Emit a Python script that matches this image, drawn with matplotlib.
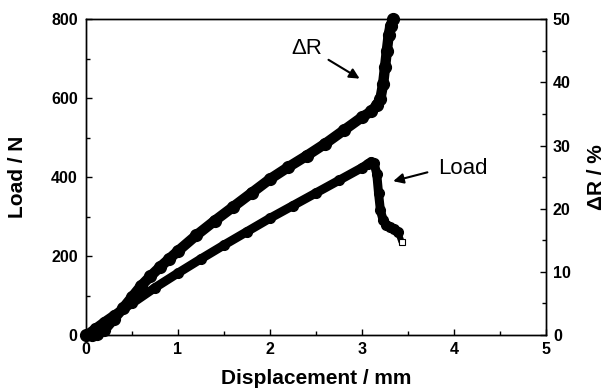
import matplotlib
matplotlib.use("Agg")
import matplotlib.pyplot as plt
from matplotlib.ticker import MultipleLocator

plt.rcParams['font.family'] = ['Liberation Sans', 'DejaVu Sans']

# Data
dr_disp = [0.0, 0.06, 0.12, 0.2, 0.3, 0.4, 0.5, 0.6, 0.7, 0.8, 0.9, 1.0, 1.2, 1.4, 1.6,
           1.8, 2.0, 2.2, 2.4, 2.6, 2.8, 3.0, 3.1, 3.16, 3.2, 3.23, 3.25, 3.27, 3.29,
           3.31, 3.34]
dr_pct = [0.0, 0.0, 0.1, 0.8, 2.5, 4.2, 6.0, 7.8, 9.3, 10.7, 12.0, 13.3, 15.8, 18.1, 20.3,
          22.5, 24.7, 26.6, 28.4, 30.3, 32.4, 34.5, 35.4, 36.4, 37.4, 39.8, 42.4, 45.0, 47.5,
          49.0, 50.0]

load_disp = [0.0, 0.1, 0.2, 0.3, 0.5, 0.75, 1.0, 1.25, 1.5, 1.75, 2.0, 2.25, 2.5, 2.75,
             3.0, 3.06, 3.1, 3.13, 3.16, 3.18, 3.2, 3.23, 3.26, 3.3, 3.35, 3.39, 3.43]
load_n = [0.0, 17, 34, 50, 80, 120, 157, 193, 228, 262, 296, 328, 360, 392,
          424, 433, 439, 436, 409, 359, 316, 291, 280, 274, 268, 262, 236]

x_ticks = [0, 1, 2, 3, 4, 5]
load_ticks = [0, 200, 400, 600, 800]
dr_ticks = [0, 10, 20, 30, 40, 50]

fig = plt.figure(figsize=(6.12, 3.90), dpi=100)
ax = fig.add_axes([86/612, 1-335/390, 460/612, (335-19.3)/390])
ax2 = ax.twinx()

# Load curve (left axis)
ax.plot(load_disp[:-1], load_n[:-1], color='black', lw=6.5, solid_capstyle='round',
        solid_joinstyle='round', marker='o', ms=7.0, mfc='black', mec='black', zorder=3)
ax.plot([load_disp[-2], load_disp[-1]], [load_n[-2], load_n[-1]], color='black', lw=4.5,
        solid_capstyle='round', zorder=3)
ax.plot([load_disp[-1]], [load_n[-1]], marker='s', ms=5, mfc='white', mec='black',
        mew=0.8, ls='none', zorder=5)

# Delta R curve (right axis)
ax2.plot(dr_disp, dr_pct, color='black', lw=7.5, solid_capstyle='round',
         solid_joinstyle='round', marker='o', ms=8.5, mfc='black', mec='black',
         clip_on=False, zorder=3)

ax.set_xlim(0, 5)
ax.set_ylim(0, 800)
ax2.set_ylim(0, 50)
ax.set_xticks(x_ticks)
ax.set_yticks(load_ticks)
ax2.set_yticks(dr_ticks)
ax.xaxis.set_minor_locator(MultipleLocator(0.5))
ax.yaxis.set_minor_locator(MultipleLocator(100))
ax2.yaxis.set_minor_locator(MultipleLocator(5))

for a in (ax, ax2):
    for s in a.spines.values():
        s.set_linewidth(1.0)
ax.tick_params(axis='both', which='both', direction='in', top=False, right=False)
ax.tick_params(axis='both', which='major', length=4, width=1)
ax.tick_params(axis='both', which='minor', length=3, width=1)
ax.tick_params(axis='x', which='major', pad=5, labelsize=11.5)
ax.tick_params(axis='y', which='major', pad=6, labelsize=11.5)
ax2.tick_params(axis='y', which='both', direction='in')
ax2.tick_params(axis='y', which='major', length=4, width=1, pad=5, labelsize=11.5)
ax2.tick_params(axis='y', which='minor', length=3, width=1)
for lab in ax.get_xticklabels() + ax.get_yticklabels() + ax2.get_yticklabels():
    lab.set_fontweight('bold')

ax.set_xlabel('Displacement / mm', fontsize=15, fontweight='bold')
ax.set_ylabel('Load / N', fontsize=15, fontweight='bold')
ax2.set_ylabel('ΔR / %', fontsize=15, fontweight='bold')
ax.xaxis.set_label_coords(0.5, -0.108)
ax.yaxis.set_label_coords(-0.128, 0.5)
ax2.yaxis.set_label_coords(1.089, 0.5)

# Annotations
ax.annotate('', xy=(3.0, 646), xytext=(2.61, 701),
            arrowprops=dict(arrowstyle='-|>', color='black', lw=1.5, mutation_scale=15))
ax.text(2.40, 725, 'ΔR', fontsize=16, ha='center', va='center')
ax.annotate('', xy=(3.31, 388), xytext=(3.74, 414),
            arrowprops=dict(arrowstyle='-|>', color='black', lw=1.5, mutation_scale=15))
ax.text(4.10, 422, 'Load', fontsize=16, ha='center', va='center')

fig.savefig('out.png', dpi=100)
